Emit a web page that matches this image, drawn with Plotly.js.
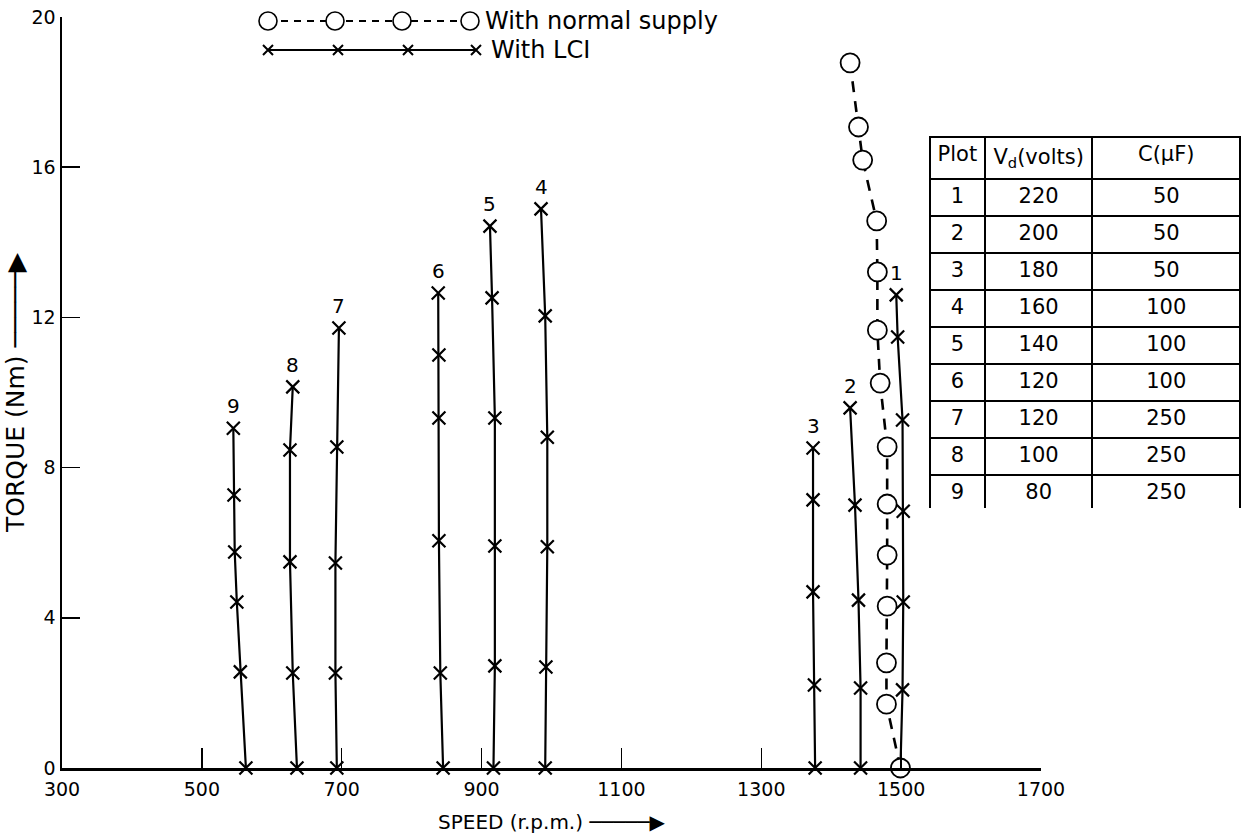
<!DOCTYPE html>
<html>
<head>
<meta charset="utf-8">
<script src="https://cdn.plot.ly/plotly-3.0.1.min.js"></script>
<style>html,body{margin:0;padding:0;background:#fff;}#chart{width:1241px;height:840px;}</style>
</head>
<body>
<div id="chart"></div>
<script>
// ---------- DATA (speed in r.p.m., torque in Nm), ordered from torque 0 upward ----------
const curveLabels = ['1', '2', '3', '4', '5', '6', '7', '8', '9'];

const speed1 = [1499, 1502, 1503, 1503, 1502, 1495, 1493];
const torque1 = [0, 2.08, 4.42, 6.84, 9.27, 11.48, 12.6];
const speed2 = [1442, 1442, 1439, 1434, 1427];
const torque2 = [0, 2.13, 4.47, 7.0, 9.59];
const speed3 = [1377, 1376, 1374, 1374, 1374];
const torque3 = [0, 2.21, 4.69, 7.14, 8.52];
const speed4 = [991, 992, 994, 994, 991, 985];
const torque4 = [0, 2.69, 5.89, 8.81, 12.04, 14.89];
const speed5 = [917, 919, 919, 919, 915, 912];
const torque5 = [0, 2.72, 5.91, 9.32, 12.52, 14.43];
const speed6 = [845, 841, 839, 839, 839, 838];
const torque6 = [0, 2.53, 6.05, 9.32, 11.0, 12.65];
const speed7 = [693, 691, 691, 693, 696];
const torque7 = [0, 2.53, 5.46, 8.55, 11.72];
const speed8 = [636, 630, 626, 626, 630];
const torque8 = [0, 2.53, 5.49, 8.47, 10.15];
const speed9 = [563, 555, 550, 547, 546, 545];
const torque9 = [0, 2.56, 4.42, 5.75, 7.27, 9.05];

const speedNormal = [1499, 1479, 1479, 1480, 1480, 1480, 1480, 1470, 1466, 1466, 1465, 1445, 1439, 1427];
const torqueNormal = [0, 1.7, 2.8, 4.31, 5.67, 7.03, 8.55, 10.25, 11.66, 13.21, 14.57, 16.19, 17.07, 18.78];

const xTickVals = [300, 500, 700, 900, 1100, 1300, 1500, 1700];
const xTickText = ['300', '500', '700', '900', '1100', '1300', '1500', '1700'];
const yTickVals = [0, 4, 8, 12, 16, 20];
const yTickText = ['0', '4', '8', '12', '16', '20'];

const tablePlot = ['1', '2', '3', '4', '5', '6', '7', '8', '9'];
const tableVd = ['220', '200', '180', '160', '140', '120', '120', '100', '80'];
const tableC = ['50', '50', '50', '100', '100', '100', '250', '250', '250'];
const tableHeader = ['Plot', 'V<sub>d</sub>(volts)', 'C(\u03BCF)'];

const legendNames = ['With normal supply', 'With LCI'];
const xTitle = 'SPEED (r.p.m.) \u2500\u2500\u2500\u2500\u2500\u25B6';
const yTitle = 'TORQUE (Nm) \u2500\u2500\u2500\u2500\u2500\u25B6';

// ---------- LAYOUT HELPERS ----------
const FONT = 'DejaVu Sans, Liberation Sans, sans-serif';
const W = 1241, H = 840;
const M = {l: 62, r: 0, t: 17, b: 72};
const AX_RIGHT = 1041;                 // pixel where the x axis ends
const areaW = W - M.l - M.r, areaH = H - M.t - M.b;
const pX = px => (px - M.l) / areaW;   // pixel -> plot-area fraction (x)
const pY = py => (H - M.b - py) / areaH;

const lciSpeeds = [speed1, speed2, speed3, speed4, speed5, speed6, speed7, speed8, speed9];
const lciTorques = [torque1, torque2, torque3, torque4, torque5, torque6, torque7, torque8, torque9];

const traces = [];
lciSpeeds.forEach((s, i) => {
  traces.push({
    type: 'scatter', mode: 'lines+markers', x: s, y: lciTorques[i],
    line: {color: '#000', width: 2.2},
    marker: {symbol: 'x-thin', size: 13, line: {color: '#000', width: 2.2}},
    showlegend: false, hoverinfo: 'x+y', cliponaxis: false
  });
});
traces.push({
  type: 'scatter', mode: 'lines+markers', x: speedNormal, y: torqueNormal,
  line: {color: '#000', width: 2.6, dash: '11px,9px'},
  marker: {symbol: 'circle', size: 19, color: '#fff', line: {color: '#000', width: 1.8}},
  showlegend: false, cliponaxis: false
});

// legend samples, drawn on an overlay axis measured in pixels
const legXs = [268, 335, 402, 470];
traces.push({
  type: 'scatter', mode: 'lines+markers', xaxis: 'x2', yaxis: 'y2',
  x: legXs, y: legXs.map(() => 21),
  line: {color: '#000', width: 2, dash: '7px,6px'},
  marker: {symbol: 'circle', size: 18, color: '#fff', line: {color: '#000', width: 1.6}},
  showlegend: false, hoverinfo: 'skip', cliponaxis: false
});
const legXs2 = [268, 338, 408, 476];
traces.push({
  type: 'scatter', mode: 'lines+markers', xaxis: 'x2', yaxis: 'y2',
  x: legXs2, y: legXs2.map(() => 50),
  line: {color: '#000', width: 2},
  marker: {symbol: 'x-thin', size: 10, line: {color: '#000', width: 2}},
  showlegend: false, hoverinfo: 'skip', cliponaxis: false
});

// table
traces.push({
  type: 'table',
  domain: {x: [pX(930), 1.0], y: [pY(508), pY(137)]},
  columnwidth: [55, 108, 148],
  header: {
    values: tableHeader,
    align: 'center', height: 39,
    line: {color: '#000', width: 2},
    fill: {color: '#fff'},
    font: {family: FONT, size: 21, color: '#000'}
  },
  cells: {
    values: [tablePlot, tableVd, tableC],
    align: 'center', height: 37,
    line: {color: '#000', width: 2},
    fill: {color: '#fff'},
    font: {family: FONT, size: 21, color: '#000'}
  }
});

const annotations = [];
lciSpeeds.forEach((s, i) => {
  annotations.push({
    x: s[s.length - 1], y: lciTorques[i][lciTorques[i].length - 1],
    xref: 'x', yref: 'y', text: curveLabels[i], showarrow: false,
    yshift: 22, font: {family: FONT, size: 20, color: '#000'}
  });
});
annotations.push({x: 483, y: 21, xref: 'x2', yref: 'y2', text: legendNames[0], showarrow: false,
  xanchor: 'left', font: {family: FONT, size: 24, color: '#000'}});
annotations.push({x: 489, y: 50, xref: 'x2', yref: 'y2', text: legendNames[1], showarrow: false,
  xanchor: 'left', font: {family: FONT, size: 24, color: '#000'}});

const layout = {
  width: W, height: H,
  margin: M,
  paper_bgcolor: '#fff', plot_bgcolor: '#fff',
  font: {family: FONT, size: 19, color: '#000'},
  showlegend: false,
  xaxis: {
    domain: [0, pX(AX_RIGHT)],
    range: [300, 1700], tickvals: xTickVals, ticktext: xTickText,
    ticks: 'inside', ticklen: 20, tickwidth: 1.5, tickcolor: '#000',
    showline: true, linecolor: '#000', linewidth: 2.5,
    showgrid: false, zeroline: false, ticklabelstandoff: 3,
    tickfont: {family: FONT, size: 19, color: '#000'},
    title: {text: xTitle, font: {family: FONT, size: 20, color: '#000'}, standoff: 16}
  },
  yaxis: {
    range: [0, 20], tickvals: yTickVals, ticktext: yTickText,
    ticks: 'inside', ticklen: 18, tickwidth: 1.5, tickcolor: '#000',
    showline: true, linecolor: '#000', linewidth: 2.5,
    showgrid: false, zeroline: false,
    tickfont: {family: FONT, size: 19, color: '#000'},
    title: {text: yTitle, font: {family: FONT, size: 25, color: '#000'}, standoff: 0}
  },
  xaxis2: {overlaying: 'x', range: [M.l, AX_RIGHT], visible: false, fixedrange: true},
  yaxis2: {overlaying: 'y', range: [H - M.b, M.t], visible: false, fixedrange: true},
  annotations: annotations
};

Plotly.newPlot('chart', traces, layout, {displayModeBar: false, staticPlot: true});
</script>
</body>
</html>
